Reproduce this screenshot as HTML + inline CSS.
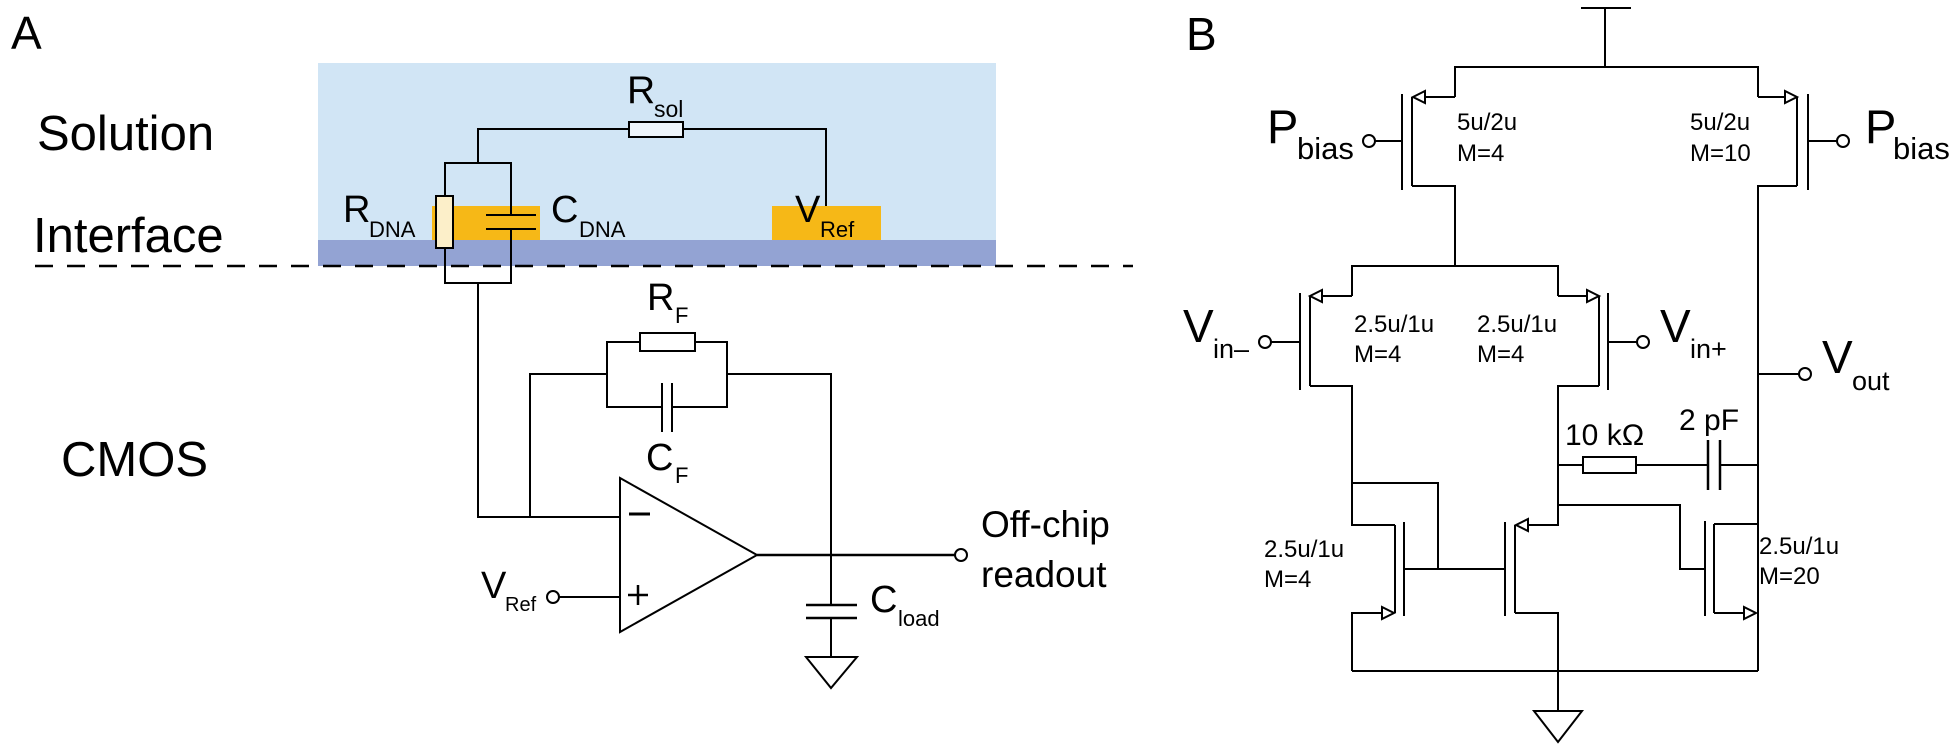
<!DOCTYPE html>
<html><head><meta charset="utf-8"><style>
html,body{margin:0;padding:0;background:#fff;}
svg{display:block;}
text{font-family:"Liberation Sans",Arial,sans-serif;fill:#000;}
</style></head><body>
<svg width="1950" height="750" viewBox="0 0 1950 750" xmlns="http://www.w3.org/2000/svg">
<!-- Panel A -->
<text x="11" y="49" font-size="46">A</text>
<rect x="318" y="63" width="678" height="177" fill="#d1e5f5"/>
<rect x="318" y="240" width="678" height="26" fill="#93a3d3"/>
<rect x="432" y="206" width="108" height="34" fill="#f6b817"/>
<rect x="772" y="206" width="109" height="34" fill="#f6b817"/>
<line x1="35" y1="266" x2="1133" y2="266" stroke="#000" stroke-width="2.5" stroke-dasharray="18 14"/>
<text x="37" y="150" font-size="49">Solution</text>
<text x="33" y="252" font-size="49">Interface</text>
<text x="61" y="476" font-size="49">CMOS</text>
<g stroke="#000" stroke-width="2" fill="none">
  <polyline points="478,163 478,129 826,129 826,206"/>
  <rect x="629" y="122" width="54" height="15" fill="#eef5fb"/>
  <polyline points="445,196 445,163 511,163 511,215"/>
  <polyline points="445,248 445,283 511,283 511,229"/>
  <rect x="436" y="196" width="17" height="52" fill="#fcefc9"/>
  <line x1="486" y1="215" x2="536" y2="215"/>
  <line x1="486" y1="229" x2="536" y2="229"/>
  <polyline points="478,283 478,517 620,517"/>
  <polyline points="530,517 530,374 607,374"/>
  <polyline points="607,374 607,342 727,342 727,374"/>
  <polyline points="607,374 607,407 662,407"/>
  <polyline points="672,407 727,407 727,374 831,374 831,605"/>
  <rect x="640" y="333" width="55" height="18" fill="#fff"/>
  <line x1="662" y1="383" x2="662" y2="432"/>
  <line x1="672" y1="383" x2="672" y2="432"/>
  <polygon points="620,478 620,632 757,555" fill="#fff"/>
  <line x1="629" y1="514" x2="650" y2="514" stroke-width="3"/>
  <line x1="628" y1="595" x2="648" y2="595" stroke-width="2.5"/>
  <line x1="638" y1="585" x2="638" y2="605" stroke-width="2.5"/>
  <line x1="559" y1="597" x2="620" y2="597"/>
  <circle cx="553" cy="597" r="6" fill="#fff"/>
  <line x1="757" y1="555" x2="955" y2="555" stroke-width="2.5"/>
  <circle cx="961" cy="555" r="6" fill="#fff"/>
  <line x1="806" y1="605" x2="857" y2="605" stroke-width="2.5"/>
  <line x1="806" y1="618" x2="857" y2="618" stroke-width="2.5"/>
  <line x1="831" y1="618" x2="831" y2="657"/>
  <polygon points="806,657 857,657 831,688"/>
</g>
<text x="627" y="103" font-size="39">R</text><text x="654" y="117" font-size="23">sol</text>
<text x="343" y="222" font-size="38">R</text><text x="369" y="237" font-size="22">DNA</text>
<text x="551" y="222" font-size="38">C</text><text x="579" y="237" font-size="22">DNA</text>
<text x="795" y="222" font-size="38">V</text><text x="820" y="237" font-size="22">Ref</text>
<text x="647" y="310" font-size="38">R</text><text x="675" y="323" font-size="22">F</text>
<text x="646" y="470" font-size="38">C</text><text x="675" y="483" font-size="22">F</text>
<text x="481" y="598" font-size="38">V</text><text x="505" y="611" font-size="20">Ref</text>
<text x="870" y="612" font-size="38">C</text><text x="898" y="626" font-size="22">load</text>
<text x="981" y="537" font-size="37">Off-chip</text>
<text x="981" y="587" font-size="37">readout</text>

<!-- Panel B -->
<text x="1186" y="50" font-size="46">B</text>
<g stroke="#000" stroke-width="2" fill="none">
  <line x1="1581" y1="8" x2="1631" y2="8"/>
  <line x1="1605" y1="8" x2="1605" y2="67"/>
  <polyline points="1455,97 1455,67 1758,67 1758,97"/>
  <line x1="1455" y1="97" x2="1425" y2="97"/>
  <polygon points="1413,97 1425,91 1425,103" fill="#fff"/>
  <line x1="1412" y1="97" x2="1412" y2="186"/>
  <line x1="1402" y1="94" x2="1402" y2="190"/>
  <line x1="1375" y1="141" x2="1402" y2="141"/>
  <circle cx="1369" cy="141" r="6" fill="#fff"/>
  <polyline points="1412,186 1455,186 1455,266"/>
  <line x1="1758" y1="97" x2="1785" y2="97"/>
  <polygon points="1797,97 1785,91 1785,103" fill="#fff"/>
  <line x1="1797" y1="97" x2="1797" y2="186"/>
  <line x1="1808" y1="94" x2="1808" y2="190"/>
  <line x1="1808" y1="141" x2="1837" y2="141"/>
  <circle cx="1843" cy="141" r="6" fill="#fff"/>
  <polyline points="1797,186 1758,186 1758,671"/>
  <polyline points="1352,296 1352,266 1558,266 1558,296"/>
  <line x1="1352" y1="296" x2="1322" y2="296"/>
  <polygon points="1310,296 1322,290 1322,302" fill="#fff"/>
  <line x1="1310" y1="296" x2="1310" y2="386"/>
  <line x1="1300" y1="293" x2="1300" y2="390"/>
  <line x1="1271" y1="342" x2="1300" y2="342"/>
  <circle cx="1265" cy="342" r="6" fill="#fff"/>
  <polyline points="1310,386 1352,386 1352,525 1395,525"/>
  <line x1="1558" y1="296" x2="1587" y2="296"/>
  <polygon points="1599,296 1587,290 1587,302" fill="#fff"/>
  <line x1="1599" y1="296" x2="1599" y2="386"/>
  <line x1="1608" y1="293" x2="1608" y2="390"/>
  <line x1="1608" y1="342" x2="1637" y2="342"/>
  <circle cx="1643" cy="342" r="6" fill="#fff"/>
  <polyline points="1599,386 1558,386 1558,525 1528,525"/>
  <polygon points="1516,525 1528,519 1528,531" fill="#fff"/>
  <line x1="1758" y1="374" x2="1799" y2="374"/>
  <circle cx="1805" cy="374" r="6" fill="#fff"/>
  <line x1="1558" y1="465" x2="1708" y2="465"/>
  <rect x="1583" y="457" width="53" height="16" fill="#fff"/>
  <line x1="1708" y1="440" x2="1708" y2="490" stroke-width="2.5"/>
  <line x1="1720" y1="440" x2="1720" y2="490" stroke-width="2.5"/>
  <line x1="1720" y1="465" x2="1758" y2="465"/>
  <polyline points="1352,483 1438,483 1438,569"/>
  <line x1="1395" y1="525" x2="1395" y2="613"/>
  <line x1="1404" y1="522" x2="1404" y2="616"/>
  <line x1="1404" y1="569" x2="1505" y2="569"/>
  <line x1="1505" y1="522" x2="1505" y2="616"/>
  <line x1="1515" y1="525" x2="1515" y2="613"/>
  <polyline points="1382,613 1352,613 1352,671"/>
  <polygon points="1394,613 1382,607 1382,619" fill="#fff"/>
  <polyline points="1515,613 1558,613 1558,711"/>
  <polyline points="1558,505 1680,505 1680,569 1705,569"/>
  <line x1="1705" y1="521" x2="1705" y2="616"/>
  <line x1="1714" y1="524" x2="1714" y2="613"/>
  <line x1="1714" y1="524" x2="1758" y2="524"/>
  <line x1="1714" y1="613" x2="1744" y2="613"/>
  <polygon points="1756,613 1744,607 1744,619" fill="#fff"/>
  <line x1="1352" y1="671" x2="1758" y2="671"/>
  <polygon points="1534,711 1582,711 1558,742"/>
</g>
<text x="1267" y="143" font-size="47">P</text><text x="1297" y="159" font-size="31">bias</text>
<text x="1865" y="143" font-size="47">P</text><text x="1893" y="159" font-size="31">bias</text>
<text x="1457" y="130" font-size="24">5u/2u</text><text x="1457" y="161" font-size="24">M=4</text>
<text x="1690" y="130" font-size="24">5u/2u</text><text x="1690" y="161" font-size="24">M=10</text>
<text x="1183" y="342" font-size="46">V</text><text x="1213" y="358" font-size="27">in–</text>
<text x="1660" y="342" font-size="46">V</text><text x="1690" y="358" font-size="27">in+</text>
<text x="1822" y="373" font-size="46">V</text><text x="1852" y="390" font-size="27">out</text>
<text x="1354" y="332" font-size="24">2.5u/1u</text><text x="1354" y="362" font-size="24">M=4</text>
<text x="1477" y="332" font-size="24">2.5u/1u</text><text x="1477" y="362" font-size="24">M=4</text>
<text x="1264" y="557" font-size="24">2.5u/1u</text><text x="1264" y="587" font-size="24">M=4</text>
<text x="1759" y="554" font-size="24">2.5u/1u</text><text x="1759" y="584" font-size="24">M=20</text>
<text x="1565" y="445" font-size="30">10 kΩ</text>
<text x="1679" y="430" font-size="30">2 pF</text>
</svg>
</body></html>
